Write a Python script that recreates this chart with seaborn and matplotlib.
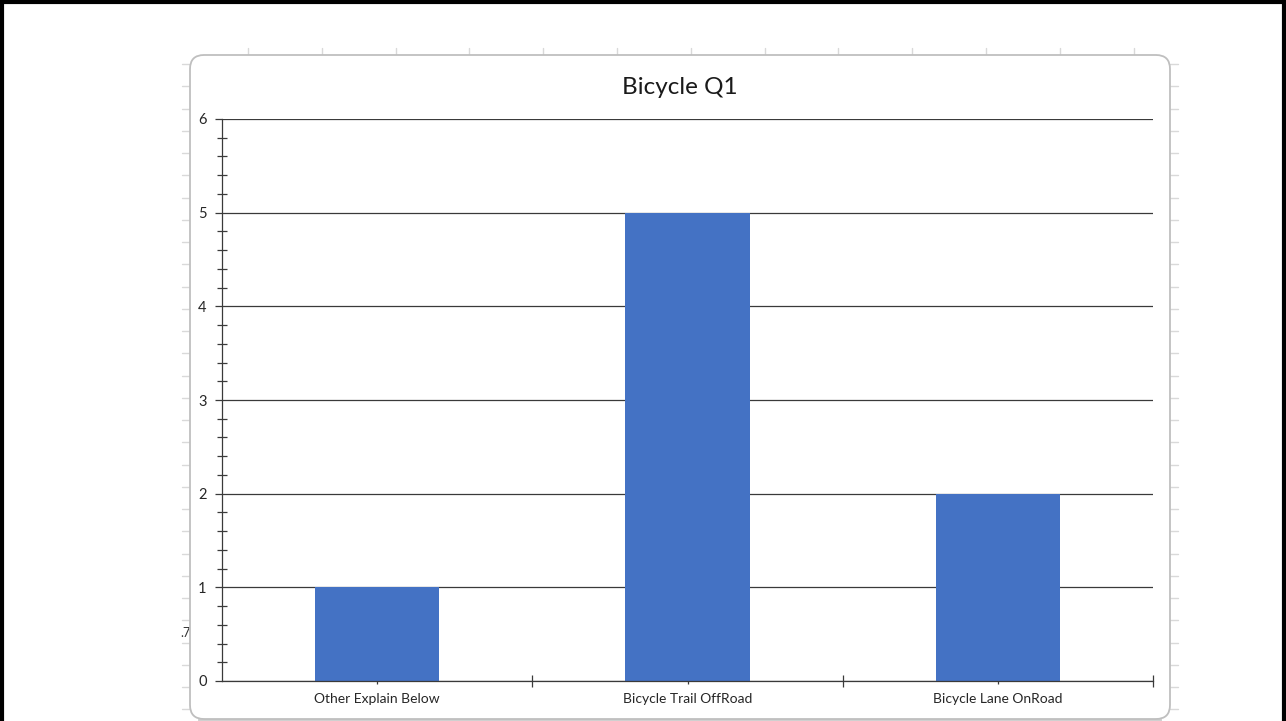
import matplotlib
matplotlib.use("Agg")
import matplotlib.pyplot as plt
import seaborn as sns
from matplotlib.patches import FancyBboxPatch
from matplotlib.lines import Line2D
from matplotlib.transforms import IdentityTransform
from matplotlib.ticker import MultipleLocator, FixedLocator

# chart data
categories = ["Other Explain Below", "Bicycle Trail OffRoad", "Bicycle Lane OnRoad"]
counts = [1, 5, 2]
title = "Bicycle Q1"

W, H = 1286, 721
sns.set_style("white")
plt.rcParams["font.family"] = ["Lato", "DejaVu Sans"]

fig = plt.figure(figsize=(W / 100, H / 100), dpi=100)
ident = IdentityTransform()

def px(x, y):
    # image pixel (top-left origin) -> display coords
    return x, H - y

# faint spreadsheet grid stubs peeking around the chart box
grid_col = "#d9d9d9"
row = 64.0
while row < H:
    for x0, x1 in [(182, 190), (1170, 1178)]:
        fig.add_artist(Line2D([x0, x1], [H - row, H - row], color=grid_col, lw=1, transform=ident, zorder=0.1))
    row += 22.25
col = 248.0
while col < 1180:
    fig.add_artist(Line2D([col, col], [H - 48, H - 55], color=grid_col, lw=1, transform=ident, zorder=0.1))
    col += 73.8
fig.add_artist(Line2D([200, 1160], [1.5, 1.5], color="#d0d0d0", lw=3, transform=ident, zorder=0.1))
fig.text(191 / W, 1 - 633 / H, ".7", ha="right", va="center", fontsize=9, color="#333333", zorder=0.2)

# rounded chart area
box = FancyBboxPatch(px(190, 719), 980, 664, boxstyle="round,pad=0,rounding_size=14",
                     transform=ident, facecolor="white", edgecolor="#bfbfbf", lw=1.3, zorder=0.5)
fig.add_artist(box)

# outer black frame
for xs, ys in [([1.5, 1.5], [0, H]), ([0, W], [H - 1.5, H - 1.5]), ([W - 2.5, W - 2.5], [0, H])]:
    fig.add_artist(Line2D(xs, ys, color="black", lw=3, transform=ident, zorder=5))

ax = fig.add_axes([222 / W, 1 - 681 / H, (1153 - 222) / W, (681 - 119) / H], zorder=1)
ax.set_facecolor("none")
sns.barplot(x=categories, y=counts, color="#4472C4", saturation=1, width=0.4,
            linewidth=0, edgecolor="none", ax=ax, zorder=2)

ax.set_xlim(-0.5, 2.5)
ax.set_ylim(0, 6)
ax.yaxis.set_major_locator(MultipleLocator(1))
ax.yaxis.set_minor_locator(MultipleLocator(0.2))
ax.xaxis.set_minor_locator(FixedLocator([0.5, 1.5, 2.5]))
ax.grid(axis="y", which="major", color="#3a3a3a", lw=0.9, zorder=1)
ax.set_axisbelow(True)

for side in ["top", "right"]:
    ax.spines[side].set_visible(False)
for side in ["left", "bottom"]:
    ax.spines[side].set_color("#3a3a3a")
    ax.spines[side].set_linewidth(0.9)
    ax.spines[side].set_zorder(3)

ax.tick_params(axis="y", which="major", direction="out", length=5, width=0.9, color="#3a3a3a",
               labelsize=10.5, pad=6, labelcolor="#262626", left=True)
ax.tick_params(axis="y", which="minor", direction="inout", length=7, width=0.9, color="#3a3a3a", left=True)
ax.tick_params(axis="x", which="major", direction="inout", length=5, width=0.9, color="#3a3a3a",
               labelsize=10, pad=6, labelcolor="#262626", bottom=True)
ax.tick_params(axis="x", which="minor", direction="inout", length=9, width=0.9, color="#3a3a3a", bottom=True)
ax.set_xlabel("")
ax.set_ylabel("")

fig.text(680 / W, 1 - 87 / H, title, ha="center", va="center", fontsize=17.5, color="#1a1a1a", zorder=2)

fig.savefig("out.png", dpi=100)
